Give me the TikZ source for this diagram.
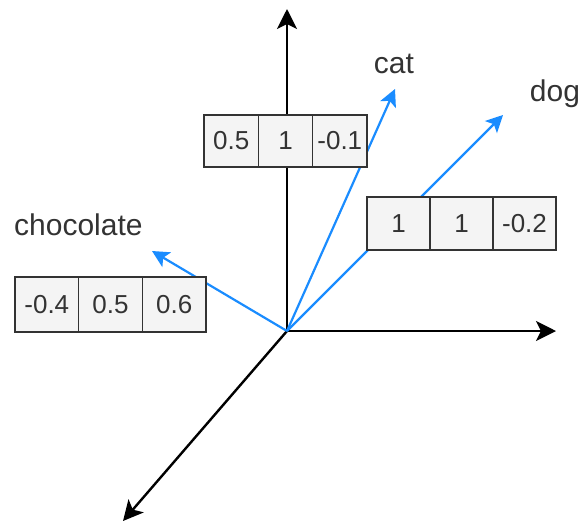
\documentclass[tikz,border=0pt]{standalone}
\usepackage{fontspec}
\setmainfont{Liberation Sans}
\usetikzlibrary{arrows.meta}
\definecolor{vecblue}{HTML}{1A8CFF}
\definecolor{inkgray}{HTML}{333333}
\definecolor{cellfill}{HTML}{F4F4F4}
\tikzset{
  axis/.style={line width=2.4pt, black, -{Stealth[length=20pt,width=20pt,inset=5pt]}},
  vec/.style={line width=2.2pt, vecblue, -{Stealth[length=17pt,width=17pt,inset=4pt]}},
  cell/.style={draw=inkgray, line width=1.6pt, fill=cellfill, inner sep=0pt,
    text=inkgray, font=\fontsize{26}{30}\selectfont},
  word/.style={text=inkgray, font=\fontsize{30}{34}\selectfont, inner sep=0pt}
}
\begin{document}
\begin{tikzpicture}[x=1pt,y=-1pt]
\useasboundingbox (0,0) rectangle (584,523);

% origin and axis ends
\coordinate (o) at (287,331);
\coordinate (ytip) at (287,9);
\coordinate (xtip) at (556,331);
\coordinate (ztip) at (123,521);

\draw[axis] (o) -- (ytip);
\draw[axis] (o) -- (xtip);
\draw[axis] (o) -- (ztip);

% word vectors
\coordinate (cattip) at (395,89);
\coordinate (dogtip) at (503,115);
\coordinate (choctip) at (152,251);
\draw[vec] (o) -- (cattip);
\draw[vec] (o) -- (dogtip);
\draw[vec] (o) -- (choctip);

% cat embedding
\node[cell, minimum width=54.3pt, minimum height=52pt] (cat1) at (231.2,141) {0.5};
\node[cell, minimum width=54.3pt, minimum height=52pt] (cat2) at (285.5,141) {1};
\node[cell, minimum width=54.3pt, minimum height=52pt] (cat3) at (339.8,141) {-0.1};

% dog embedding
\node[cell, minimum width=63pt, minimum height=53pt] (dog1) at (398.5,223.5) {1};
\node[cell, minimum width=63pt, minimum height=53pt] (dog2) at (461.5,223.5) {1};
\node[cell, minimum width=63pt, minimum height=53pt] (dog3) at (524.5,223.5) {-0.2};

% chocolate embedding
\node[cell, minimum width=63.7pt, minimum height=55pt] (choc1) at (46.8,304.5) {-0.4};
\node[cell, minimum width=63.7pt, minimum height=55pt] (choc2) at (110.5,304.5) {0.5};
\node[cell, minimum width=63.7pt, minimum height=55pt] (choc3) at (174.2,304.5) {0.6};

% labels
\node[word, anchor=base] (catlabel) at (394,73) {cat};
\node[word, anchor=base] (doglabel) at (555,101) {dog};
\node[word, anchor=base west] (choclabel) at (14,235) {chocolate};
\end{tikzpicture}
\end{document}
